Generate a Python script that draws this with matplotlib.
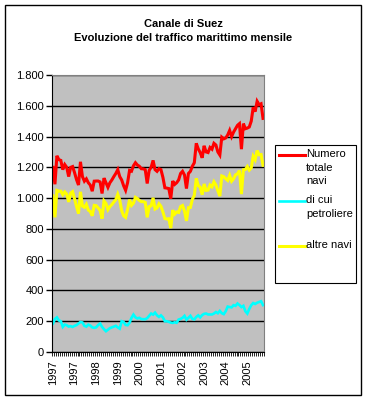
import matplotlib
matplotlib.use('Agg')
import matplotlib.pyplot as plt
from matplotlib.lines import Line2D
from matplotlib.patches import Rectangle
import numpy as np

plt.rcParams['font.family'] = ['Liberation Sans', 'DejaVu Sans']

# monthly data, Jan 1997 - Dec 2005
totale = [1200, 1090, 1275, 1250, 1245, 1185, 1218, 1200, 1140, 1200,
          1205, 1165, 1120, 1085, 1236, 1140, 1110, 1125, 1100, 1085,
          1045, 1110, 1111, 1111, 1105, 1030, 1130, 1100, 1070, 1100,
          1118, 1140, 1160, 1185, 1140, 1118, 1080, 1051, 1100, 1180,
          1175, 1210, 1230, 1215, 1207, 1191, 1190, 1185, 1095, 1180,
          1200, 1245, 1185, 1174, 1191, 1185, 1135, 1067, 1065, 1062,
          996, 1111, 1089, 1100, 1118, 1160, 1174, 1150, 1062, 1160,
          1174, 1207, 1230, 1356, 1320, 1296, 1262, 1340, 1300, 1296,
          1329, 1318, 1356, 1345, 1300, 1280, 1396, 1385, 1391, 1410,
          1440, 1400, 1429, 1451, 1473, 1484, 1318, 1484, 1451, 1455,
          1462, 1500, 1590, 1562, 1629, 1607, 1613, 1518]

petroliere = [185, 215, 225, 205, 200, 163, 178, 174, 165, 168,
              163, 170, 175, 185, 195, 192, 170, 165, 178, 172,
              160, 157, 160, 175, 185, 163, 148, 135, 145, 155,
              160, 165, 170, 160, 152, 200, 195, 176, 174, 190,
              222, 243, 225, 218, 222, 214, 213, 213, 220, 235,
              250, 243, 256, 238, 228, 238, 225, 200, 200, 196,
              191, 189, 193, 190, 211, 215, 222, 235, 210, 222,
              235, 215, 212, 228, 238, 225, 240, 248, 250, 244,
              244, 244, 250, 260, 252, 267, 252, 246, 265, 295,
              292, 290, 304, 300, 315, 305, 292, 300, 265, 250,
              280, 304, 318, 312, 320, 325, 330, 305]

# altre navi = totale - petroliere
altre = [t - p for t, p in zip(totale, petroliere)]

mesi = np.arange(len(totale))
label_pos = [0, 11, 22, 33, 44, 55, 66, 77, 88, 99]
label_txt = ['1997', '1997', '1998', '1999', '2000', '2001', '2002', '2003', '2004', '2005']

fig = plt.figure(figsize=(3.66, 4.01), dpi=100)
fig.patch.set_facecolor('white')

# outer chart border
fig.add_artist(Rectangle((5 / 366, 6 / 401), 356 / 366, 390 / 401, transform=fig.transFigure,
                         fill=False, edgecolor='black', linewidth=1.0))

ax = fig.add_axes([52 / 366, 49 / 401, 212 / 366, 277 / 401])
ax.set_facecolor('#C0C0C0')

l1, = ax.plot(mesi, totale, color='#FF0000', linewidth=2.2, solid_joinstyle='miter')
l2, = ax.plot(mesi, petroliere, color='#00FFFF', linewidth=1.9, solid_joinstyle='miter')
l3, = ax.plot(mesi, altre, color='#FFFF00', linewidth=2.2, solid_joinstyle='miter')

ax.set_ylim(0, 1800)
ax.set_xlim(-0.5, len(totale) - 0.5)
yt = np.arange(0, 1801, 200)
ax.set_yticks(yt)
ax.set_yticklabels([f'{v:,}'.replace(',', '.') for v in yt], fontsize=8)
ax.yaxis.grid(True, color='black', linewidth=1.0)
ax.set_axisbelow(True)

ax.set_xticks(label_pos)
ax.set_xticklabels(label_txt, rotation=90, fontsize=8)
ax.set_xticks(np.arange(-0.5, len(totale), 1), minor=True)
ax.tick_params(axis='x', which='major', length=0, pad=6)
ax.tick_params(axis='x', which='minor', length=3, width=0.6, color='black')
ax.tick_params(axis='y', length=4, width=1, pad=2)

for s in ['top', 'right']:
    ax.spines[s].set_color('#808080')
for s in ['left', 'bottom']:
    ax.spines[s].set_color('black')

fig.text(183 / 366, 1 - 24 / 401, 'Canale di Suez', ha='center', va='center',
         fontsize=8, fontweight='bold')
fig.text(183 / 366, 1 - 38 / 401, 'Evoluzione del traffico marittimo mensile',
         ha='center', va='center', fontsize=8, fontweight='bold')

# legend drawn by hand so the line sits beside the first text line
fig.add_artist(Rectangle((275 / 366, 1 - 283 / 401), 81 / 366, 138 / 401,
                         transform=fig.transFigure, fill=True, facecolor='white',
                         edgecolor='black', linewidth=0.8))
entries = [(l1, 'Numero\ntotale\nnavi', 155), (l2, 'di cui\npetroliere', 201),
           (l3, 'altre navi', 246)]
for line, txt, ypix in entries:
    yf = 1 - ypix / 401
    fig.add_artist(Line2D([279 / 366, 305 / 366], [yf, yf], transform=fig.transFigure,
                          color=line.get_color(), linewidth=line.get_linewidth()))
    fig.text(306 / 366, yf + 6 / 401, txt, ha='left', va='top', fontsize=8,
             linespacing=1.45)

fig.savefig('out.png', dpi=100)
